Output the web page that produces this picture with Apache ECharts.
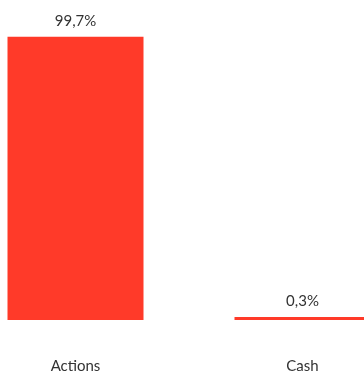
<!DOCTYPE html>
<html lang="fr">
<head>
    <meta charset="UTF-8">
    <title>Répartition</title>
    <script src="https://cdn.jsdelivr.net/npm/echarts@6/dist/echarts.min.js"></script>
    <style>
        html, body { margin: 0; padding: 0; background: #fff; overflow: hidden; }
        /* le graphique d'origine déborde à gauche et à droite */
        #main { width: 454px; height: 374px; margin-left: -38px; }
    </style>
</head>
<body>
<div id="main"></div>
<script type="text/javascript">
    // données
    var categories = ['Actions', 'Cash'];
    var weights = [99.7, 0.3];

    var myChart = echarts.init(document.getElementById('main'));
    var option = {
        animation: false,
        grid: {
            left: 0,
            right: 0,
            top: 36,
            bottom: 52
        },
        xAxis: {
            type: 'category',
            data: categories,
            axisLine: { show: false },
            axisTick: { show: false },
            axisLabel: {
                margin: 39,
                fontFamily: 'Lato',
                fontSize: 15,
                color: '#333'
            }
        },
        yAxis: {
            type: 'value',
            min: 0,
            max: 100,
            show: false,
            splitLine: { show: false }
        },
        series: [
            {
                type: 'bar',
                data: weights,
                barWidth: 136,
                barMinHeight: 3,
                itemStyle: { color: '#FF3A29' },
                label: {
                    show: true,
                    position: 'top',
                    distance: 8,
                    fontFamily: 'Lato',
                    fontSize: 15,
                    color: '#333',
                    formatter: function (p) {
                        return p.value.toFixed(1).replace('.', ',') + '%';
                    }
                }
            }
        ]
    };
    option && myChart.setOption(option);
</script>
</body>
</html>
